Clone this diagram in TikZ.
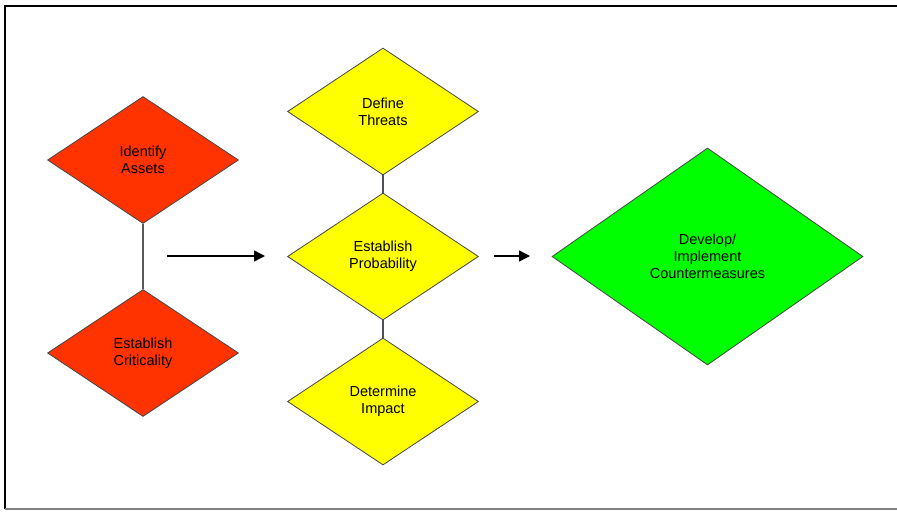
\documentclass[tikz,border=0pt]{standalone}
\usepackage{fontspec}
\setmainfont{Liberation Sans}
\usetikzlibrary{shapes.geometric,arrows.meta}
\definecolor{dred}{RGB}{255,51,0}
\definecolor{dyel}{RGB}{255,255,0}
\definecolor{dgrn}{RGB}{0,255,0}
\definecolor{dedge}{RGB}{70,70,70}
\begin{document}
\begin{tikzpicture}[x=1pt,y=-1pt,
  dia/.style={diamond, draw=dedge, line width=0.8pt, inner sep=0pt, align=center,
    font=\fontsize{14.5}{17}\selectfont, text=black},
  smalldia/.style={dia, minimum width=191pt, minimum height=127pt},
  link/.style={draw={rgb,255:red,90;green,90;blue,90}, line width=1.8pt},
  thinlink/.style={draw={rgb,255:red,80;green,80;blue,90}, line width=1.4pt},
  flow/.style={draw=black, line width=1.4pt, -{Triangle[length=11pt,width=11pt]}}]
\useasboundingbox (0,0) rectangle (897,512);
% frame
\draw[black, line width=2pt] (5,509) -- (5,6) -- (898,6);
\draw[gray, line width=2pt] (5,509) -- (898,509);
% nodes
\node[smalldia, fill=dred] (ia) at (143,160) {Identify\\Assets};
\node[smalldia, fill=dred] (ec) at (143,353) {Establish\\Criticality};
\node[smalldia, fill=dyel] (dt) at (383,111.5) {Define\\Threats};
\node[smalldia, fill=dyel] (ep) at (383,256.5) {Establish\\Probability};
\node[smalldia, fill=dyel] (di) at (383,401.5) {Determine\\Impact};
\node[dia, fill=dgrn, minimum width=311pt, minimum height=217pt] (dev) at (707.5,256.5) {Develop/\\Implement\\Countermeasures};
% links
\draw[link] (ia.south) -- (ec.north);
\draw[thinlink] (dt.south) -- (ep.north);
\draw[thinlink] (ep.south) -- (di.north);
% arrows
\coordinate (a1s) at (167,256);
\coordinate (a1e) at (265,256);
\coordinate (a2s) at (494,256);
\coordinate (a2e) at (530,256);
\draw[flow] (a1s) -- (a1e);
\draw[flow] (a2s) -- (a2e);
\end{tikzpicture}
\end{document}
